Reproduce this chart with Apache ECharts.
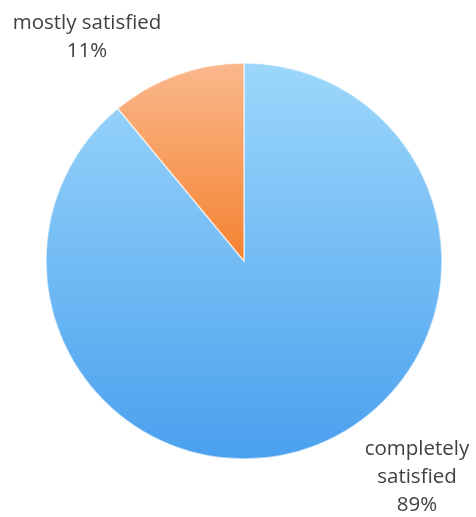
<!DOCTYPE html>
<html><head><meta charset="utf-8">
<script src="https://cdn.jsdelivr.net/npm/echarts@6/dist/echarts.min.js"></script>
<style>html,body{margin:0;padding:0;background:#fff}#c{width:476px;height:517px}</style>
</head><body><div id="c"></div>
<script>
const categories = ['completely\nsatisfied', 'mostly satisfied'];
const values = [89, 11];

const grads = [
  new echarts.graphic.LinearGradient(0,0,0,1,[{offset:0,color:'#9dd7fb'},{offset:1,color:'#4aa0ee'}]),
  new echarts.graphic.LinearGradient(0,0,0,1,[{offset:0,color:'#fab88d'},{offset:1,color:'#f5822f'}])
];
const labelPos = [[417, 477], [87, 37]];

const chart = echarts.init(document.getElementById('c'), null, {renderer:'canvas'});
chart.setOption({
  animation:false,
  series:[{
    type:'pie',
    center:[244,261],
    radius:[0,198],
    startAngle:90,
    clockwise:true,
    data: categories.map((n,i)=>({name:n, value:values[i], itemStyle:{color:grads[i]}})),
    itemStyle:{borderColor:'rgba(255,255,255,0.6)', borderWidth:1.5},
    label:{
      show:true, position:'outside',
      formatter: p => p.name + '\n' + p.percent.toFixed(0) + '%',
      fontFamily:'Open Sans', fontSize:20.5, color:'#404040', lineHeight:28, align:'center',
      overflow:'none', width:200
    },
    labelLine:{show:false},
    labelLayout: p => ({x: labelPos[p.dataIndex][0], y: labelPos[p.dataIndex][1], align:'center', verticalAlign:'middle'})
  }]
});
</script></body></html>
